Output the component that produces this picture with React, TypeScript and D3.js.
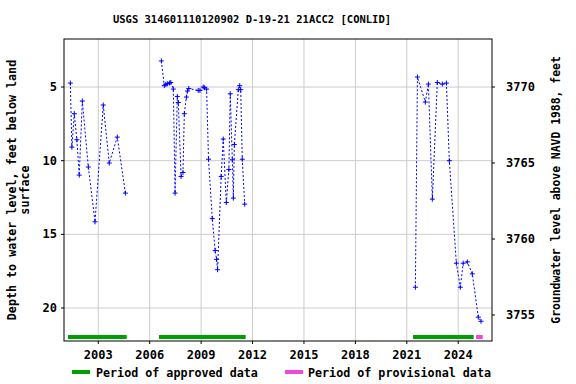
import * as d3 from 'd3';
import React from 'react';

// periods of record (decimal year, depth below land surface in feet)
const seg2001 = [
  [2001.37, 4.73], [2001.46, 9.08], [2001.6, 6.81], [2001.75, 8.58], [2001.89, 10.98],
  [2002.07, 5.95], [2002.42, 10.43], [2002.81, 14.15], [2003.29, 6.22], [2003.64, 10.16],
  [2004.11, 8.4], [2004.58, 12.2]
];
const seg2006 = [
  [2006.68, 3.23], [2006.85, 4.91], [2006.94, 4.82], [2007.03, 4.78], [2007.15, 4.73],
  [2007.23, 4.69], [2007.38, 5.14], [2007.48, 12.2], [2007.61, 5.64], [2007.67, 6.05],
  [2007.83, 11.07], [2007.94, 10.8], [2008.02, 6.81], [2008.14, 5.68], [2008.2, 5.27],
  [2008.28, 5.1], [2008.83, 5.23], [2008.93, 5.23], [2009.12, 5.0], [2009.2, 5.05],
  [2009.32, 5.14], [2009.43, 9.9], [2009.65, 13.93], [2009.82, 16.1], [2009.9, 16.7],
  [2009.96, 17.4], [2010.17, 11.07], [2010.29, 8.53], [2010.47, 12.84], [2010.62, 10.6],
  [2010.7, 5.46], [2010.82, 9.94], [2010.88, 12.54], [2010.94, 8.9], [2011.17, 5.18],
  [2011.25, 4.91], [2011.31, 5.18], [2011.4, 9.9], [2011.54, 12.95]
];
const seg2021 = [
  [2021.5, 18.59], [2021.62, 4.32], [2022.08, 6.02], [2022.26, 4.8], [2022.49, 12.61],
  [2022.78, 4.69], [2023.07, 4.8], [2023.31, 4.73], [2023.48, 10.0], [2023.89, 16.96],
  [2024.12, 18.59], [2024.29, 16.96], [2024.53, 16.87], [2024.82, 17.68], [2025.17, 20.62],
  [2025.33, 20.9]
];
const approvedPeriods = [[2001.23, 2004.66], [2006.54, 2011.6], [2021.36, 2024.9]];
const provisionalPeriods = [[2025.04, 2025.43]];

const yearTicks = [2003, 2006, 2009, 2012, 2015, 2018, 2021, 2024];
const depthTicks = [5, 10, 15, 20];
const elevTicks = [3770, 3765, 3760, 3755];

const title = 'USGS 314601110120902 D-19-21 21ACC2 [CONLID]';
const font = '"DejaVu Sans Mono", monospace';
const blue = '#0000ff';
const green = '#009e00';
const pink = '#f046dc';

export default function App() {
  const left = 64, right = 492, top = 39, bottom = 341;

  const x = d3.scaleLinear().domain([2001.0, 2025.97]).range([left, right]);
  const y = d3.scaleLinear().domain([1.74, 22.24]).range([top, bottom]);
  const yElev = d3.scaleLinear().domain([3773.16, 3753.29]).range([top, bottom]);

  const line = d3.line<number[]>()
    .x(d => x(d[0]))
    .y(d => y(d[1]));

  const segments = [seg2001, seg2006, seg2021];

  return (
    <svg width={576} height={384} style={{ position: 'absolute', left: 0, top: 0 }}
      fontFamily={font} fontWeight="bold">
      <rect x={0} y={0} width={576} height={384} fill="#fff" />
      <text x={252} y={23} textAnchor="middle" fontSize={10.5}>{title}</text>

      {/* grid */}
      {yearTicks.map(t => (
        <line key={'gx' + t} x1={x(t)} x2={x(t)} y1={top} y2={bottom} stroke="#cccccc" />
      ))}
      {depthTicks.map(t => (
        <line key={'gy' + t} x1={left} x2={right} y1={y(t)} y2={y(t)} stroke="#cccccc" />
      ))}

      {/* data */}
      {segments.map((s, i) => (
        <path key={'s' + i} d={line(s) || ''} fill="none" stroke={blue}
          strokeWidth={1} strokeDasharray="2,2" />
      ))}
      {segments.flat().map((d, i) => (
        <g key={'m' + i} stroke={blue} strokeWidth={1}>
          <line x1={x(d[0]) - 2.5} x2={x(d[0]) + 2.5} y1={y(d[1])} y2={y(d[1])} />
          <line x1={x(d[0])} x2={x(d[0])} y1={y(d[1]) - 2.5} y2={y(d[1]) + 2.5} />
        </g>
      ))}

      {/* periods */}
      {approvedPeriods.map((p, i) => (
        <line key={'a' + i} x1={x(p[0])} x2={x(p[1])} y1={337} y2={337} stroke={green} strokeWidth={4} />
      ))}
      {provisionalPeriods.map((p, i) => (
        <line key={'p' + i} x1={x(p[0])} x2={x(p[1])} y1={337} y2={337} stroke={pink} strokeWidth={4} />
      ))}

      {/* frame */}
      <rect x={left} y={top} width={right - left} height={bottom - top} fill="none" stroke="#000" strokeWidth={1} />

      {/* axes */}
      {yearTicks.map(t => (
        <g key={'xt' + t}>
          <line x1={x(t)} x2={x(t)} y1={bottom} y2={bottom + 3} stroke="#000" />
          <text x={x(t)} y={359} textAnchor="middle" fontSize={12}>{t}</text>
        </g>
      ))}
      {depthTicks.map(t => (
        <g key={'yt' + t}>
          <line x1={left - 3} x2={left} y1={y(t)} y2={y(t)} stroke="#000" />
          <text x={57} y={y(t) + 4} textAnchor="end" fontSize={12}>{t}</text>
        </g>
      ))}
      {elevTicks.map(t => (
        <g key={'et' + t}>
          <line x1={right} x2={right + 3} y1={yElev(t)} y2={yElev(t)} stroke="#000" />
          <text x={506} y={yElev(t) + 4} textAnchor="start" fontSize={12}>{t}</text>
        </g>
      ))}

      <text transform={`translate(16,${(top + bottom) / 2}) rotate(-90)`} textAnchor="middle" fontSize={11.7}>
        Depth to water level, feet below land
      </text>
      <text transform={`translate(29,${(top + bottom) / 2}) rotate(-90)`} textAnchor="middle" fontSize={11.7}>
        surface
      </text>
      <text transform={`translate(560,${(top + bottom) / 2}) rotate(-90)`} textAnchor="middle" fontSize={11.4}>
        Groundwater level above NAVD 1988, feet
      </text>

      {/* legend */}
      <line x1={72} x2={90} y1={372} y2={372} stroke={green} strokeWidth={4} />
      <text x={96} y={376.5} fontSize={11.7}>Period of approved data</text>
      <line x1={285} x2={303} y1={372} y2={372} stroke={pink} strokeWidth={4} />
      <text x={308} y={376.5} fontSize={11.7}>Period of provisional data</text>
    </svg>
  );
}
